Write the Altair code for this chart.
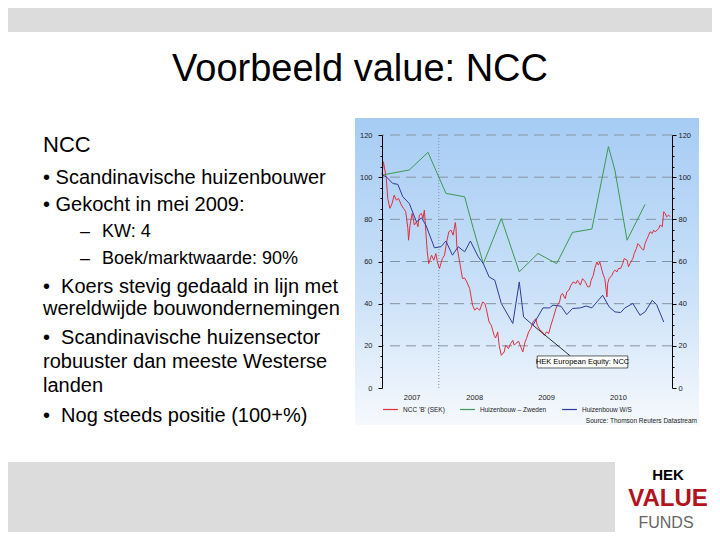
import altair as alt
import pandas as pd

# ---------------- data ----------------
SERIES = ["NCC 'B' (SEK)", "Huizenbouw – Zweden", "Huizenbouw W/S"]
COLORS = ["#e0303e", "#3b9a52", "#2f3a9e"]

red_years = [2007.21, 2007.23, 2007.27, 2007.29, 2007.32, 2007.35, 2007.38, 2007.41, 2007.44, 2007.48,
             2007.51, 2007.54, 2007.57, 2007.58, 2007.60, 2007.63, 2007.66, 2007.69, 2007.71, 2007.73,
             2007.76, 2007.78, 2007.80, 2007.82, 2007.84, 2007.86, 2007.90, 2007.93, 2007.96, 2007.98,
             2008.01, 2008.05, 2008.08, 2008.11, 2008.14, 2008.17, 2008.20, 2008.23, 2008.24, 2008.25,
             2008.29, 2008.33, 2008.36, 2008.39, 2008.43, 2008.47, 2008.50, 2008.53, 2008.57, 2008.61,
             2008.64, 2008.66, 2008.70, 2008.73, 2008.77, 2008.79, 2008.82, 2008.84, 2008.87, 2008.91,
             2008.93, 2008.97, 2009.00, 2009.03, 2009.05, 2009.07, 2009.11, 2009.14, 2009.17, 2009.20,
             2009.22, 2009.25, 2009.28, 2009.31, 2009.35, 2009.37, 2009.41, 2009.44, 2009.47, 2009.50,
             2009.53, 2009.56, 2009.59, 2009.63, 2009.65, 2009.68, 2009.70, 2009.72, 2009.76, 2009.78,
             2009.81, 2009.84, 2009.87, 2009.91, 2009.93, 2009.97, 2010.00, 2010.04, 2010.07, 2010.10,
             2010.12, 2010.15, 2010.17, 2010.20, 2010.22, 2010.24, 2010.27, 2010.29, 2010.31, 2010.34,
             2010.35, 2010.37, 2010.41, 2010.43, 2010.45, 2010.48, 2010.50, 2010.53, 2010.56, 2010.58,
             2010.62, 2010.64, 2010.66, 2010.70, 2010.72, 2010.75, 2010.77, 2010.79, 2010.82, 2010.85,
             2010.87, 2010.90, 2010.92, 2010.94, 2010.97, 2010.99, 2011.01, 2011.04, 2011.06, 2011.08,
             2011.11, 2011.13, 2011.15, 2011.17, 2011.20, 2011.22]
red_values = [101.0, 107.3, 99.4, 89.9, 85.2, 87.5, 91.5, 89.1, 89.9, 86.8,
              85.2, 83.6, 75.7, 70.1, 77.3, 82.8, 77.3, 78.8, 76.5, 82.0,
              82.8, 80.4, 84.4, 74.1, 64.6, 59.0, 63.0, 60.6, 63.8, 59.8,
              56.7, 61.4, 63.0, 69.3, 74.1, 74.9, 72.5, 78.5, 75.7, 67.8,
              59.8, 51.9, 52.2, 50.3, 47.2, 39.3, 36.9, 38.0, 36.9, 40.8,
              40.1, 37.7, 31.3, 29.8, 25.0, 23.7, 26.6, 20.3, 15.5, 17.1,
              20.3, 18.7, 21.1, 22.6, 20.3, 21.1, 22.2, 19.5, 17.1, 21.8,
              23.4, 26.6, 28.2, 31.3, 32.9, 29.8, 27.4, 26.6, 25.0, 26.6,
              25.8, 29.8, 32.9, 37.7, 39.3, 40.8, 44.0, 44.8, 42.4, 45.6,
              46.4, 48.8, 50.3, 49.6, 51.1, 48.8, 51.9, 50.3, 48.0, 48.0,
              51.1, 53.5, 56.7, 59.8, 58.3, 59.8, 55.9, 53.5, 51.9, 43.2,
              49.6, 51.9, 53.5, 55.1, 55.9, 55.1, 56.7, 56.7, 59.0, 61.4,
              60.6, 57.5, 59.0, 61.4, 63.8, 66.2, 68.5, 67.8, 66.2, 65.4,
              68.5, 70.9, 72.5, 74.1, 73.3, 74.9, 74.1, 74.9, 75.7, 77.3,
              76.5, 83.6, 82.8, 81.2, 82.0, 81.2]

green_years = [2007.21, 2007.59, 2007.85, 2008.10, 2008.36, 2008.48, 2008.62, 2008.87, 2009.12,
               2009.38, 2009.64, 2009.86, 2010.13, 2010.36, 2010.45, 2010.62, 2010.87]
green_values = [101.0, 103.4, 111.8, 92.3, 90.7, 75.7, 59.0, 80.4, 55.1,
                63.8, 59.0, 73.8, 75.4, 114.5, 103.4, 70.1, 87.1]

blue_years = [2007.21, 2007.27, 2007.36, 2007.43, 2007.50, 2007.59, 2007.69, 2007.76, 2007.82, 2007.94,
              2008.03, 2008.10, 2008.19, 2008.27, 2008.36, 2008.44, 2008.55, 2008.62, 2008.70, 2008.78,
              2008.87, 2009.03, 2009.12, 2009.18, 2009.31, 2009.45, 2009.54, 2009.59, 2009.70, 2009.78,
              2009.86, 2009.97, 2010.05, 2010.13, 2010.28, 2010.37, 2010.45, 2010.53, 2010.59, 2010.70,
              2010.80, 2010.87, 2010.97, 2011.03, 2011.13]
blue_values = [101.0, 100.2, 97.0, 96.6, 90.7, 87.5, 78.8, 80.7, 77.3, 66.5,
               67.0, 69.7, 63.0, 67.0, 64.6, 69.7, 62.2, 59.0, 52.7, 51.1,
               40.1, 30.6, 50.3, 33.7, 29.8, 38.0, 38.0, 39.3, 38.8, 34.8,
               37.7, 38.0, 38.9, 38.0, 44.0, 38.5, 36.1, 35.8, 38.0, 40.1,
               34.5, 36.1, 41.6, 39.6, 31.3]

X_DOMAIN = [2007.21, 2011.245]
Y_DOMAIN = [0, 120]
YEAR_LABEL_POS = [2007.63, 2008.5, 2009.5, 2010.5]
YEAR_LABELS = ["2007", "2008", "2009", "2010"]
Y_TICKS = [0, 5, 10, 15, 20, 25, 30, 35, 40, 45, 50, 55, 60, 65, 70, 75, 80, 85, 90, 95, 100, 105, 110, 115, 120]
GRID_VALUES = [20, 40, 60, 80, 100, 120]
YEAR_BREAK = [2008.0]

ANNOTATION_TEXT = "HEK European Equity: NCC"
ANNOTATION_BOX = {"x": 2009.37, "x2": 2010.63, "y": 15.2, "y2": 9.5}
ANNOTATION_LINK = {"x": 2009.31, "y": 29.8, "x2": 2009.83, "y2": 15.2}
SOURCE_TEXT = "Source: Thomson Reuters Datastream"

TITLE = "Voorbeeld value: NCC"
HEADING = "NCC"
BULLET_LINES = [
    "• Scandinavische huizenbouwer",
    "• Gekocht in mei 2009:",
    "•\u00a0 Koers stevig gedaald in lijn met",
    "wereldwijde bouwondernemingen",
    "•\u00a0 Scandinavische huizensector",
    "robuuster dan meeste Westerse",
    "landen",
    "•\u00a0 Nog steeds positie (100+%)",
]
SUB_LINES = ["KW: 4", "Boek/marktwaarde: 90%"]
LOGO = ["HEK", "VALUE", "FUNDS"]

# ---------------- layout (pixels relative to the plot origin) ----------------
FONT = "Liberation Sans, Arial, sans-serif"
CFONT = "Liberation Sans, Arial, sans-serif"
W, H = 290, 253
PAD = {"left": 374, "top": 127, "right": 40, "bottom": 144}

BULLET_Y = [49, 76, 158, 180, 209, 233, 257, 287]
SUB_Y = [102, 129]

ONE = pd.DataFrame({"k": [0]})

rows = []
for name, xs, ys in [(SERIES[0], red_years, red_values),
                     (SERIES[1], green_years, green_values),
                     (SERIES[2], blue_years, blue_values)]:
    for xv, yv in zip(xs, ys):
        rows.append({"series": name, "year": xv, "value": yv})
df = pd.DataFrame(rows)

XSCALE = alt.Scale(domain=X_DOMAIN, nice=False, zero=False)
YSCALE = alt.Scale(domain=Y_DOMAIN, nice=False)

major_tick = {"condition": {"test": "datum.value % 20 == 0", "value": 4}, "value": 2}

XAXIS = alt.Axis(values=YEAR_LABEL_POS, labels=False, ticks=False, grid=False,
                 domainColor="black", domainWidth=1, title=None, zindex=1)
LEFT_AXIS = alt.Axis(orient="left", values=Y_TICKS,
                     labelExpr="datum.value % 20 == 0 ? datum.label : ''",
                     tickSize=major_tick, tickColor="black", domainColor="black", domainWidth=1,
                     labelFont=CFONT, labelFontSize=7.5, labelColor="#222222", labelPadding=6,
                     title=None, grid=False, zindex=1, labelOverlap=False)
RIGHT_AXIS = alt.Axis(orient="right", values=Y_TICKS,
                      labelExpr="datum.value % 20 == 0 ? datum.label : ''",
                      tickSize=major_tick, tickColor="black", domainColor="black", domainWidth=1,
                      labelFont=CFONT, labelFontSize=7.5, labelColor="#222222", labelPadding=2,
                      title=None, grid=False, zindex=1, labelOverlap=False)


def box(x, x2, y, y2, color):
    return alt.Chart(ONE).mark_rect(color=color, strokeWidth=0).encode(
        x=alt.value(x), x2=alt.value(x2), y=alt.value(y), y2=alt.value(y2))


def text(s, x, y, size, align="left", color="black", weight="normal", font=FONT, baseline="alphabetic"):
    return alt.Chart(ONE).mark_text(text=s, fontSize=size, font=font, align=align, baseline=baseline,
                                    color=color, fontWeight=weight).encode(
        x=alt.value(x), y=alt.value(y))


layers = []
# slide bands
layers.append(box(-382, 338, -135, -103, "#dcdcdc"))
layers.append(box(-382, 233, 327, 410, "#dcdcdc"))

# chart picture background (gradient)
grad = alt.Gradient(gradient="linear", x1=0, y1=0, x2=0, y2=1,
                    stops=[alt.GradientStop(color="#a6ccf4", offset=0),
                           alt.GradientStop(color="#c9e0f8", offset=0.55),
                           alt.GradientStop(color="#f6f9fd", offset=1)])
layers.append(alt.Chart(ONE).mark_rect(fill=grad, strokeWidth=0).encode(
    x=alt.value(-27), x2=alt.value(317), y=alt.value(-17), y2=alt.value(290)))

# dashed horizontal grid (carries right axis)
layers.append(alt.Chart(pd.DataFrame({"v": GRID_VALUES})).mark_rule(
    color="#8793a0", strokeDash=[10, 6], strokeWidth=1).encode(
    y=alt.Y("v:Q", scale=YSCALE, axis=RIGHT_AXIS)))

# dotted year boundary
layers.append(alt.Chart(pd.DataFrame({"b": YEAR_BREAK})).mark_rule(
    color="#8090a0", strokeDash=[1, 2], strokeWidth=1).encode(
    x=alt.X("b:Q", scale=XSCALE, axis=None)))

# series lines
layers.append(alt.Chart(df).mark_line(strokeWidth=1).encode(
    x=alt.X("year:Q", scale=XSCALE, axis=XAXIS),
    y=alt.Y("value:Q", scale=YSCALE, axis=LEFT_AXIS),
    color=alt.Color("series:N", scale=alt.Scale(domain=SERIES, range=COLORS),
                    legend=alt.Legend(orient="none", legendX=0, legendY=266, direction="horizontal",
                                      title=None, symbolType="stroke", symbolSize=220,
                                      symbolStrokeWidth=1.2, labelFontSize=6.5, labelFont=CFONT,
                                      labelColor="#222222", columnPadding=12, padding=0,
                                      labelOffset=4, labelLimit=200))))

# year labels centred on the visible part of each year
layers.append(alt.Chart(pd.DataFrame({"p": YEAR_LABEL_POS, "t": YEAR_LABELS})).mark_text(
    fontSize=7.5, font=CFONT, color="#222222", baseline="top").encode(
    x=alt.X("p:Q", scale=XSCALE, axis=None), y=alt.value(H + 6), text="t:N"))

# annotation
layers.append(alt.Chart(pd.DataFrame([ANNOTATION_LINK])).mark_rule(color="black", strokeWidth=0.8).encode(
    x=alt.X("x:Q", scale=XSCALE, axis=None), x2="x2:Q",
    y=alt.Y("y:Q", scale=YSCALE, axis=None), y2="y2:Q"))
layers.append(alt.Chart(pd.DataFrame([ANNOTATION_BOX])).mark_rect(
    fill="white", stroke="#222222", strokeWidth=0.7).encode(
    x=alt.X("x:Q", scale=XSCALE, axis=None), x2="x2:Q",
    y=alt.Y("y:Q", scale=YSCALE, axis=None), y2="y2:Q"))
ann_center = pd.DataFrame([{"x": (ANNOTATION_BOX["x"] + ANNOTATION_BOX["x2"]) / 2,
                            "y": (ANNOTATION_BOX["y"] + ANNOTATION_BOX["y2"]) / 2,
                            "t": ANNOTATION_TEXT}])
layers.append(alt.Chart(ann_center).mark_text(fontSize=7.5, font=CFONT, color="black", baseline="middle").encode(
    x=alt.X("x:Q", scale=XSCALE, axis=None), y=alt.Y("y:Q", scale=YSCALE, axis=None), text="t:N"))

# source
layers.append(text(SOURCE_TEXT, 315, 288, 6.5, align="right", color="#222222", font=CFONT))

# slide texts
layers.append(text(TITLE, -22, -54, 38, align="center"))
layers.append(text(HEADING, -339, 17, 22))
for s, y in zip(BULLET_LINES, BULLET_Y):
    layers.append(text(s, -339, y, 20))
for s, y in zip(SUB_LINES, SUB_Y):
    layers.append(text("–", -302, y, 18))
    layers.append(text(s, -280, y, 18))

# logo
layers.append(text(LOGO[0], 286, 345, 15, align="center", weight="bold"))
layers.append(text(LOGO[1], 286, 371, 24, align="center", weight="bold", color="#b3131c"))
layers.append(text(LOGO[2], 284, 393, 16, align="center", color="#666666"))

chart = alt.layer(*layers).resolve_axis(y="independent").properties(
    width=W, height=H, padding=PAD, autosize=alt.AutoSizeParams(type="none"), background="white"
).configure_view(strokeWidth=0)

chart.save("out.html", embed_options={"renderer": "svg", "actions": False})
